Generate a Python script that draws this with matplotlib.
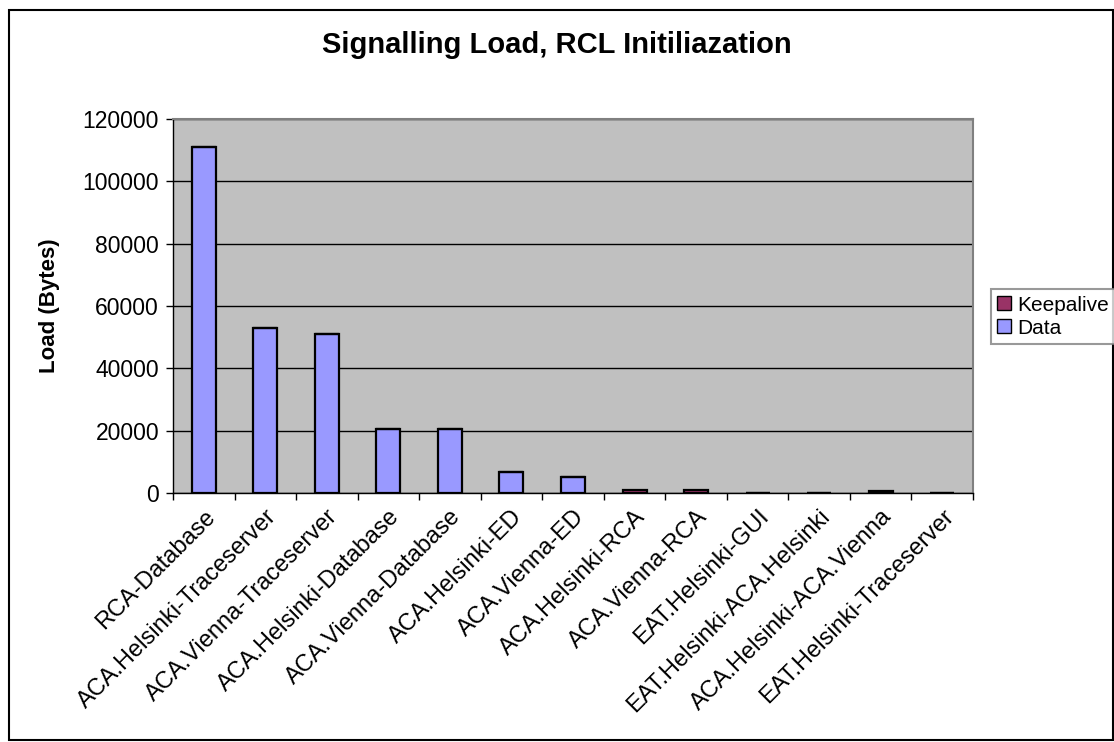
import matplotlib
matplotlib.use("Agg")
import matplotlib.pyplot as plt
from matplotlib.patches import Rectangle, Patch
import numpy as np

plt.rcParams['font.family'] = ['Liberation Sans', 'DejaVu Sans']

categories = [
    "RCA-Database", "ACA.Helsinki-Traceserver", "ACA.Vienna-Traceserver",
    "ACA.Helsinki-Database", "ACA.Vienna-Database", "ACA.Helsinki-ED",
    "ACA.Vienna-ED", "ACA.Helsinki-RCA", "ACA.Vienna-RCA", "EAT.Helsinki-GUI",
    "EAT.Helsinki-ACA.Helsinki", "ACA.Helsinki-ACA.Vienna", "EAT.Helsinki-Traceserver",
]
data_bytes = [111000, 53000, 51000, 20500, 20500, 6800, 5200, 0, 0, 0, 0, 0, 0]
keepalive_bytes = [0, 0, 0, 0, 0, 0, 0, 1100, 1100, 0, 0, 600, 0]
y_ticks = [0, 20000, 40000, 60000, 80000, 100000, 120000]

fig = plt.figure(figsize=(11.14, 7.42), dpi=100)
ax = fig.add_axes([173/1114, 1 - 493/742, 800/1114, 374/742])
ax.set_facecolor("#C0C0C0")

x = np.arange(len(categories))
w = 0.39
ax.bar(x, data_bytes, width=w, color="#9999FF", edgecolor="black", linewidth=1.6, zorder=3)
ax.bar(x, keepalive_bytes, width=w, bottom=data_bytes, color="#993366",
       edgecolor="black", linewidth=1.6, zorder=3)

ax.set_xlim(-0.5, len(categories) - 0.5)
ax.set_ylim(0, 120000)
ax.set_yticks(y_ticks)
ax.set_yticklabels([str(v) for v in y_ticks], fontsize=16.5)
ax.yaxis.grid(True, color="black", linewidth=1.0, zorder=1)
ax.set_axisbelow(True)

# category labels centred under each bar, ticks at the category boundaries
ax.set_xticks(x)
ax.set_xticklabels(categories, rotation=45, ha="right", rotation_mode="anchor", fontsize=17)
ax.tick_params(axis="x", length=0, pad=9)
ax.set_xticks(np.arange(len(categories) + 1) - 0.5, minor=True)
ax.tick_params(axis="x", which="minor", length=5, width=1.0, direction="out", color="black")
ax.tick_params(axis="y", length=5, width=1.0, direction="out", pad=5)

for s in ("left", "bottom"):
    ax.spines[s].set_color("black")
    ax.spines[s].set_linewidth(1.0)
for s in ("top", "right"):
    ax.spines[s].set_color("#808080")
    ax.spines[s].set_linewidth(1.5)

ax.set_ylabel("Load (Bytes)", fontsize=16, fontweight="bold", labelpad=16)
fig.text(557/1114, 1 - 45/742, "Signalling Load, RCL Initiliazation",
         ha="center", va="center", fontsize=21, fontweight="bold")

handles = [Patch(facecolor="#993366", edgecolor="black", label="Keepalive"),
           Patch(facecolor="#9999FF", edgecolor="black", label="Data")]
leg = fig.legend(handles=handles, loc="lower left", bbox_to_anchor=(991/1114, 1 - 344/742),
                 fontsize=15, frameon=True, fancybox=False, handlelength=0.65,
                 handleheight=0.65, handletextpad=0.3, borderpad=0.3, labelspacing=0.2,
                 borderaxespad=0)
leg.get_frame().set_edgecolor("#808080")
leg.get_frame().set_linewidth(1.5)

# chart border
fig.patches.append(Rectangle((9/1114, 2/742), 1104/1114, 730/742, transform=fig.transFigure,
                             fill=False, edgecolor="black", linewidth=1.5, zorder=0))

fig.savefig("out.png", dpi=100)
